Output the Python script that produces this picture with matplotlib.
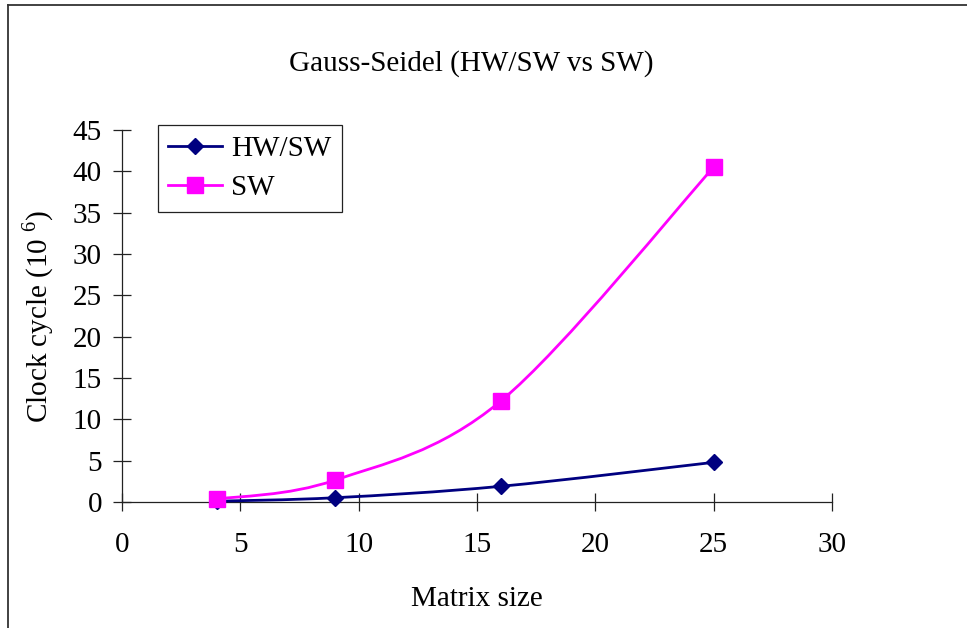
import numpy as np
import matplotlib
matplotlib.use('Agg')
import matplotlib.pyplot as plt
from matplotlib.path import Path
from matplotlib.patches import PathPatch
from matplotlib.lines import Line2D

plt.rcParams['font.family'] = ['Liberation Serif', 'DejaVu Serif']
plt.rcParams['mathtext.fontset'] = 'custom'
plt.rcParams['mathtext.rm'] = 'Liberation Serif'

# clock cycles (10^6) per matrix size
matrix_size = [4, 9, 16, 25]
hw_sw = [0.1, 0.52, 1.9, 4.8]
sw = [0.35, 2.65, 12.2, 40.5]

x_ticks = [0, 5, 10, 15, 20, 25, 30]
y_ticks = [0, 5, 10, 15, 20, 25, 30, 35, 40, 45]

NAVY = '#000080'
MAGENTA = '#FF00FF'
FS = 21
LW = 2.0


def smooth_path(xs, ys):
    # catmull-rom style bezier through the points (excel "smoothed line")
    pts = np.column_stack([xs, ys]).astype(float)
    n = len(pts)
    verts = [pts[0]]
    codes = [Path.MOVETO]
    for i in range(n - 1):
        p0 = pts[i - 1] if i > 0 else pts[i]
        p1 = pts[i]
        p2 = pts[i + 1]
        p3 = pts[i + 2] if i + 2 < n else pts[i + 1]
        c1 = p1 + (p2 - p0) / 6.0
        c2 = p2 - (p3 - p1) / 6.0
        verts += [c1, c2, p2]
        codes += [Path.CURVE4] * 3
    return Path(verts, codes)


fig = plt.figure(figsize=(9.67, 6.28), dpi=100)
ax = fig.add_axes([0.1262, 0.2006, 0.7342, 0.5924])

for ys, color, marker, ms, label in [(hw_sw, NAVY, 'D', 8.0, 'HW/SW'),
                                     (sw, MAGENTA, 's', 11, 'SW')]:
    ax.add_patch(PathPatch(smooth_path(matrix_size, ys), fill=False,
                           edgecolor=color, lw=LW, zorder=3, clip_on=False))
    ax.plot(matrix_size, ys, ls='none', marker=marker, ms=ms, color=color,
            mec=color, zorder=4, clip_on=False)

ax.set_xlim(0, 30)
ax.set_ylim(0, 45)
ax.set_xticks(x_ticks)
ax.set_yticks(y_ticks)
ax.spines['top'].set_visible(False)
ax.spines['right'].set_visible(False)
for s in ('left', 'bottom'):
    ax.spines[s].set_linewidth(0.9)
    ax.spines[s].set_color('#222222')
ax.tick_params(direction='inout', length=13, width=0.9, color='#222222',
               labelsize=FS)
ax.tick_params(axis='y', pad=8)
ax.tick_params(axis='x', pad=15)

ax.set_xlabel('Matrix size', fontsize=FS, labelpad=20)
ax.set_ylabel('Clock cycle (10 $^{6}$)', fontsize=FS, labelpad=12)
fig.suptitle('Gauss-Seidel (HW/SW vs SW)', fontsize=FS, x=0.487, y=0.921)

handles = [Line2D([], [], color=NAVY, lw=LW, marker='D', ms=8.0),
           Line2D([], [], color=MAGENTA, lw=LW, marker='s', ms=11)]
leg = ax.legend(handles, ['HW/SW', 'SW'], loc='upper left',
                bbox_to_anchor=(0.051, 1.013), fontsize=FS, frameon=True,
                fancybox=False, edgecolor='#222222', framealpha=1,
                borderpad=0.35, handlelength=1.85, handletextpad=0.3,
                labelspacing=0.45, borderaxespad=0)
leg.get_frame().set_linewidth(0.9)

# outer chart border (left and top edges)
fig.add_artist(Line2D([0.0078, 0.0078], [0, 0.992], transform=fig.transFigure,
                      color='#333333', lw=1.3))
fig.add_artist(Line2D([0.0078, 1.0], [0.992, 0.992], transform=fig.transFigure,
                      color='#333333', lw=1.3))

fig.savefig('out.png', dpi=100)
